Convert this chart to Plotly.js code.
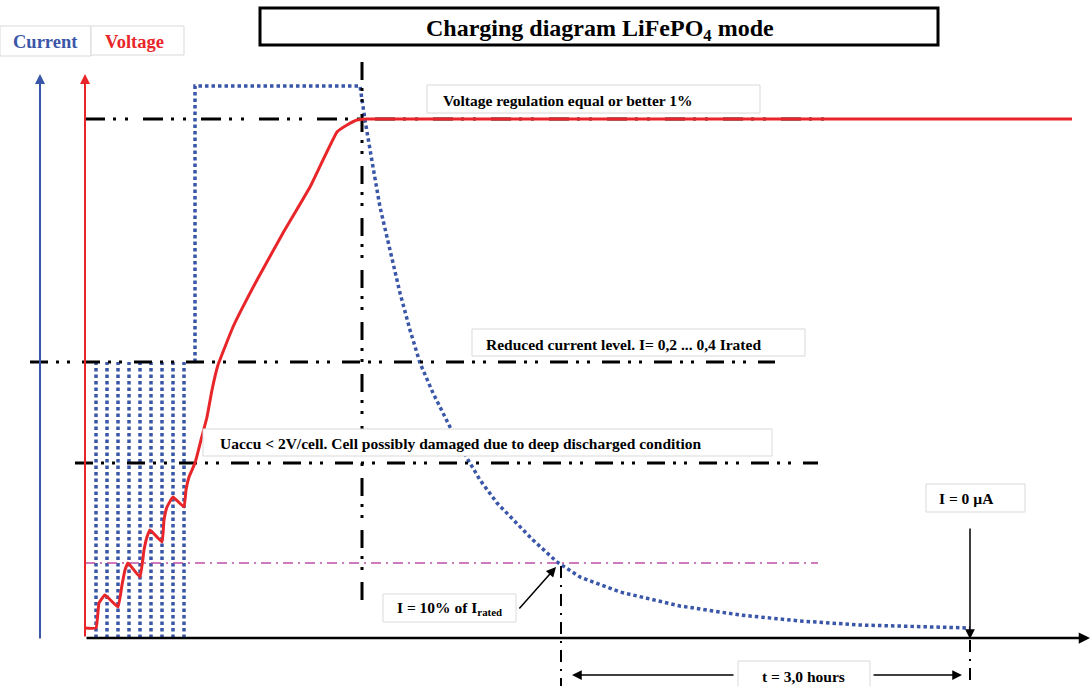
<!DOCTYPE html>
<html>
<head>
<meta charset="utf-8">
<script src="https://cdn.plot.ly/plotly-3.0.1.min.js"></script>
<style>html,body{margin:0;padding:0;background:#fff;}#chart{width:1090px;height:686px;}</style>
</head>
<body>
<div id="chart"></div>
<script>
// Schematic coordinates: time (x) and level (y, drawn top-down)
const voltageTime  = [85, 96, 99, 105, 118, 122, 125, 128, 140, 144, 147, 150, 162, 164, 167, 173, 184, 186, 189, 195, 201, 207, 212, 218, 233, 257, 283, 310, 337, 347, 357, 367, 1072];
const voltageLevel = [628, 628, 603, 595, 607, 585, 570, 563, 577, 550, 537, 530, 542, 520, 507, 497, 507, 490, 477, 463, 440, 417, 390, 365, 327, 280, 233, 187, 132, 125, 120, 119, 119];

const currentTime  = [195, 195, 360, 365, 373, 380, 390, 400, 410, 420, 433, 450, 467, 480, 497, 513, 533, 557, 580, 620, 680, 740, 800, 860, 920, 970];
const currentLevel = [362, 86, 86, 120, 167, 207, 250, 293, 330, 363, 393, 427, 458, 480, 503, 520, 540, 562, 577, 592, 606, 615, 621, 625, 627, 628];

const pulseTimes = [96, 107, 118, 129, 140, 151, 162, 173, 184];
const pulseLow = 638, pulseHigh = 362;

const regulationLevel = 119, reducedLevel = 362, deepDischargeLevel = 463, tenPercentLevel = 563;
const cvStartTime = 362, tenPercentTime = 561, endTime = 970;

const BLUE = '#3a56a8', RED = '#e8262a', MAG = '#c04fa8';

const px = [], py = [];
pulseTimes.forEach(t => { px.push(t, t, null); py.push(pulseLow, pulseHigh, null); });

const dashA = '18px,8px,3px,8px,3px,12px';
const DOT = '3.5px,3px';
const traces = [
  {x: px, y: py, mode: 'lines', line: {color: BLUE, width: 3.5, dash: DOT}},
  {x: currentTime, y: currentLevel, mode: 'lines', line: {color: BLUE, width: 3.5, dash: DOT}},
  {x: [85, 830], y: [regulationLevel, regulationLevel], mode: 'lines', line: {color: '#000', width: 3, dash: '20px,8px,3px,9px,3px,15px'}},
  {x: [30, 775], y: [reducedLevel, reducedLevel], mode: 'lines', line: {color: '#000', width: 3, dash: dashA}},
  {x: [75, 818], y: [deepDischargeLevel, deepDischargeLevel], mode: 'lines', line: {color: '#000', width: 3, dash: dashA}},
  {x: [cvStartTime, cvStartTime], y: [62, 605], mode: 'lines', line: {color: '#000', width: 3, dash: dashA}},
  {x: [85, 818], y: [tenPercentLevel, tenPercentLevel], mode: 'lines', line: {color: MAG, width: 1.5, dash: '10px,5px,2px,5px'}},
  {x: [tenPercentTime, tenPercentTime], y: [566, 686], mode: 'lines', line: {color: '#000', width: 2, dash: '12px,7px,2px,7px'}},
  {x: [endTime, endTime], y: [640, 686], mode: 'lines', line: {color: '#000', width: 2, dash: '12px,7px,2px,7px'}},
  {x: voltageTime, y: voltageLevel, mode: 'lines', line: {color: RED, width: 3, shape: 'spline', smoothing: 0.3}}
];

function box(x0, y0, x1, y1, color, w) {
  return {type: 'rect', xref: 'x', yref: 'y', x0, y0, x1, y1, layer: 'above',
          fillcolor: '#ffffff', line: {color: color || '#d9d9d9', width: w || 1}};
}
const shapes = [
  box(0, 26, 91, 56), box(91, 26, 184, 55),
  box(260, 8, 938, 45, '#000', 3),
  box(427, 85, 760, 113),
  box(472, 329, 805, 356),
  box(203, 429, 772, 456),
  box(383, 594, 516, 622),
  box(926, 484, 1025, 512),
  box(738, 661, 870, 692)
];

const F = 'Liberation Serif, Times New Roman, serif';
function label(x, y, text, size, color, anchor) {
  return {x, y, xref: 'x', yref: 'y', text, showarrow: false, xanchor: anchor || 'left', yanchor: 'middle',
          font: {family: F, size: size || 15.5, color: color || '#000', weight: 'bold'}};
}
function arrow(hx, hy, tx, ty, color, w, size) {
  return {x: hx, y: hy, ax: tx, ay: ty, xref: 'x', yref: 'y', axref: 'x', ayref: 'y', text: '',
          showarrow: true, arrowhead: 2, arrowsize: size || 1, arrowwidth: w || 1.5, arrowcolor: color || '#000', standoff: 0, startstandoff: 0};
}
const annotations = [
  label(45, 42, '<b>Current</b>', 18.5, BLUE, 'center'),
  label(134, 42, '<b>Voltage</b>', 18.5, RED, 'center'),
  label(600, 30, '<b>Charging diagram LiFePO<sub>4</sub> mode</b>', 24, '#000', 'center'),
  label(441, 100, '<b>Voltage regulation equal or better 1%</b>'),
  label(484, 344, '<b>Reduced current level. I= 0,2 ... 0,4 Irated</b>'),
  label(218, 443, '<b>Uaccu &lt; 2V/cell. Cell possibly damaged due to deep discharged condition</b>'),
  label(395, 608, '<b>I = 10% of I<sub>rated</sub></b>'),
  label(937, 498, '<b>I = 0 µA</b>'),
  label(760, 676, '<b>t = 3,0 hours</b>'),
  arrow(40, 74, 40, 640, BLUE, 2, 1),
  arrow(85, 74, 85, 638, RED, 2, 1),
  arrow(1090, 638, 85, 638, '#000', 2.5, 0.9),
  arrow(556, 567, 518, 610, '#000', 1.5, 1.3),
  arrow(970, 639, 970, 527, '#000', 1.5, 1.3),
  arrow(572, 675, 735, 675, '#000', 1.5, 1.3),
  arrow(962, 675, 872, 675, '#000', 1.5, 1.3)
];

const layout = {
  width: 1090, height: 686,
  margin: {l: 0, r: 0, t: 0, b: 0},
  paper_bgcolor: '#fff', plot_bgcolor: '#fff',
  showlegend: false,
  xaxis: {range: [0, 1090], visible: false, fixedrange: true},
  yaxis: {range: [686, 0], visible: false, fixedrange: true},
  shapes, annotations
};
Plotly.newPlot('chart', traces, layout, {displayModeBar: false, staticPlot: true});
</script>
</body>
</html>
